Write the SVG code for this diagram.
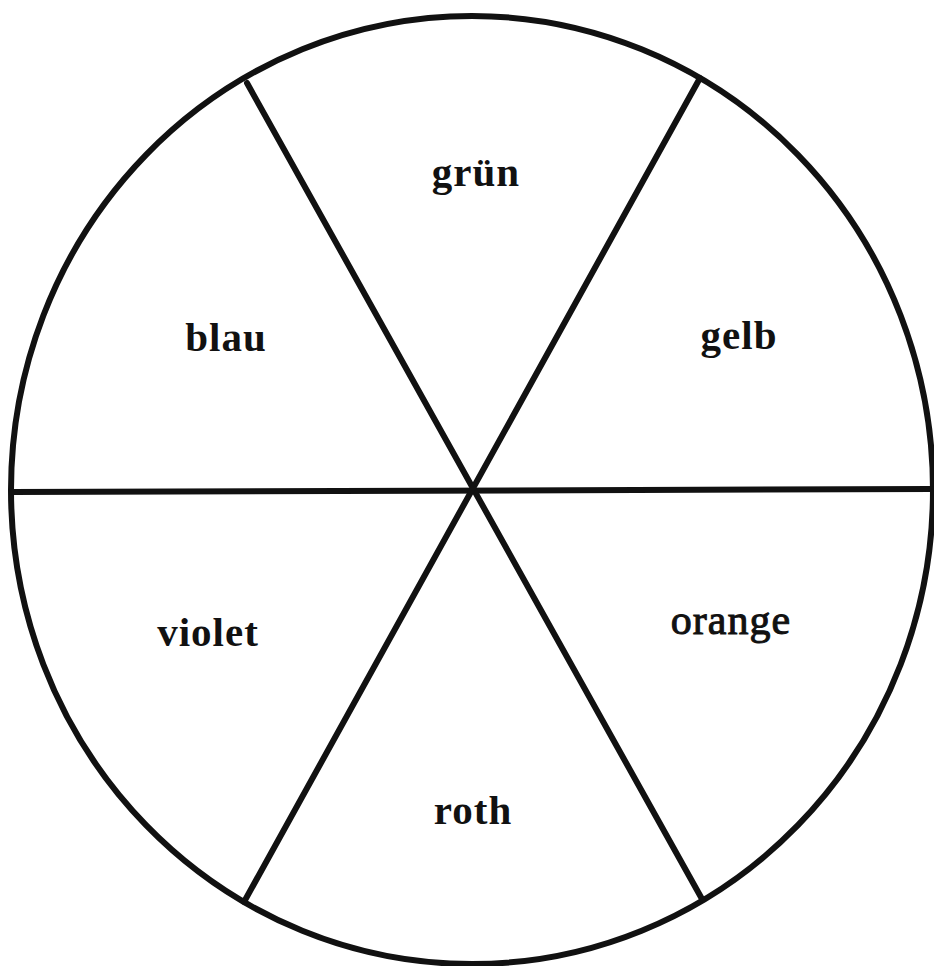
<svg xmlns="http://www.w3.org/2000/svg" width="934" height="966" viewBox="0 0 934 966">
<style>
.ln{stroke:#111;stroke-width:6;fill:none;stroke-linecap:round}
.lb{font-family:"Liberation Serif","DejaVu Serif",serif;font-size:41px;font-weight:bold;fill:#111;text-anchor:middle;letter-spacing:1px}
.lr{font-weight:normal;font-size:42px;stroke:#111;stroke-width:1}
</style>
<rect width="934" height="966" fill="#fff"/>
<g id="connectors">
<ellipse class="ln" cx="472" cy="490" rx="461" ry="474"/>
<line class="ln" x1="12" y1="492" x2="932" y2="489"/>
<line class="ln" x1="247" y1="83" x2="702" y2="899"/>
<line class="ln" x1="700" y1="78" x2="244" y2="902"/>
</g>
<g id="gruen"><text class="lb" x="476" y="186">grün</text></g>
<g id="gelb"><text class="lb" x="739" y="349">gelb</text></g>
<g id="blau"><text class="lb" x="226" y="351">blau</text></g>
<g id="violet"><text class="lb" x="208" y="646">violet</text></g>
<g id="orange"><text class="lb lr" x="731" y="634">orange</text></g>
<g id="roth"><text class="lb" x="473" y="824">roth</text></g>
</svg>
